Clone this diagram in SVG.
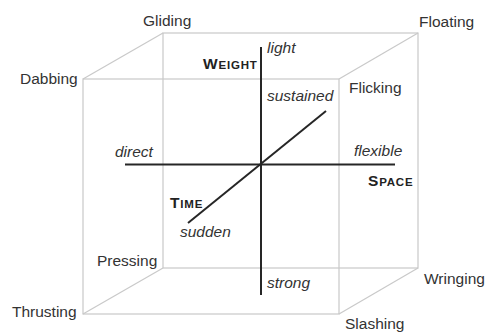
<svg xmlns="http://www.w3.org/2000/svg" width="488" height="333" viewBox="0 0 488 333">
<style>
.cube{fill:none;stroke:#c9c9c9;stroke-width:1.2}
.axis{fill:none;stroke:#262626;stroke-width:2}
text{font-family:"Liberation Sans",Arial,sans-serif;fill:#333;font-size:15.5px}
.it{font-style:italic}
.b{font-weight:bold;fill:#222;letter-spacing:0.8px}
.sc{font-size:11.5px}
</style>
<rect width="488" height="333" fill="#fff"/>
<g id="connectors">
<g id="cube">
<rect class="cube" x="163" y="33" width="255" height="235"/>
<rect class="cube" x="83" y="79" width="256" height="235"/>
<line class="cube" x1="163" y1="33" x2="83" y2="79"/>
<line class="cube" x1="418" y1="33" x2="339" y2="79"/>
<line class="cube" x1="163" y1="268" x2="83" y2="314"/>
<line class="cube" x1="418" y1="268" x2="339" y2="314"/>
</g>
<g id="axes">
<line class="axis" x1="261" y1="47" x2="261" y2="295"/>
<line class="axis" x1="125" y1="164.5" x2="395" y2="164.5"/>
<line class="axis" x1="326" y1="111" x2="188" y2="223"/>
</g>
</g>
<g id="corner-gliding"><text x="143" y="26">Gliding</text></g>
<g id="corner-floating"><text x="419" y="27">Floating</text></g>
<g id="corner-dabbing"><text x="20" y="84">Dabbing</text></g>
<g id="corner-flicking"><text x="349" y="93">Flicking</text></g>
<g id="corner-pressing"><text x="97" y="266">Pressing</text></g>
<g id="corner-thrusting"><text x="12" y="317">Thrusting</text></g>
<g id="corner-wringing"><text x="424" y="284">Wringing</text></g>
<g id="corner-slashing"><text x="345" y="329">Slashing</text></g>
<g id="axis-weight">
<text class="b" x="203" y="69">W<tspan class="sc">EIGHT</tspan></text>
<text class="it" x="267" y="53">light</text>
<text class="it" x="267" y="288">strong</text>
</g>
<g id="axis-space">
<text class="b" x="368" y="186">S<tspan class="sc">PACE</tspan></text>
<text class="it" x="115" y="157">direct</text>
<text class="it" x="354" y="156">flexible</text>
</g>
<g id="axis-time">
<text class="b" x="170" y="208">T<tspan class="sc">IME</tspan></text>
<text class="it" x="267" y="101">sustained</text>
<text class="it" x="180" y="237">sudden</text>
</g>
</svg>
